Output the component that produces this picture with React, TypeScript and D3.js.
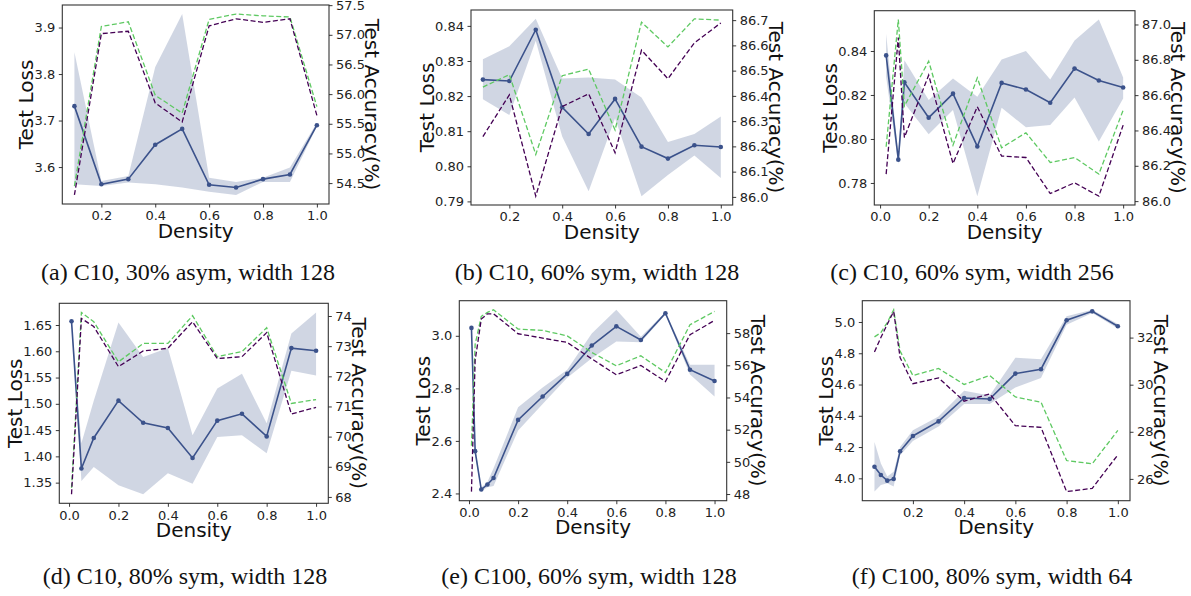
import React, { useEffect, useRef } from "react";
import * as d3 from "d3";

// ---- (a) C10, 30% asym, width 128
const xA = [0.1, 0.2, 0.3, 0.4, 0.5, 0.6, 0.7, 0.8, 0.9, 1.0];
const lossA = [3.731, 3.563, 3.574, 3.648, 3.682, 3.562, 3.556, 3.574, 3.584, 3.69];
const lossLoA = [3.563, 3.559, 3.567, 3.563, 3.556, 3.547, 3.54, 3.568, 3.568, 3.687];
const lossHiA = [3.847, 3.57, 3.581, 3.815, 3.929, 3.577, 3.568, 3.577, 3.599, 3.695];
const greenA = [54.45, 57.14, 57.22, 55.98, 55.68, 57.26, 57.35, 57.32, 57.3, 55.79];
const purpleA = [54.3, 57.02, 57.06, 55.85, 55.53, 57.15, 57.27, 57.21, 57.27, 55.64];

// ---- (b) C10, 60% sym, width 128
const xB = [0.1, 0.2, 0.3, 0.4, 0.5, 0.6, 0.7, 0.8, 0.9, 1.0];
const lossB = [0.8247, 0.8243, 0.8389, 0.8168, 0.8092, 0.8192, 0.8056, 0.8022, 0.806, 0.8055];
const lossLoB = [0.8191, 0.8146, 0.8358, 0.8085, 0.7929, 0.8137, 0.7915, 0.7975, 0.8031, 0.7967];
const lossHiB = [0.8305, 0.8342, 0.842, 0.825, 0.8253, 0.8247, 0.8196, 0.8069, 0.8092, 0.8142];
const greenB = [86.435, 86.484, 86.168, 86.48, 86.506, 86.265, 86.692, 86.594, 86.705, 86.7];
const purpleB = [86.239, 86.404, 86.003, 86.358, 86.408, 86.175, 86.581, 86.468, 86.61, 86.689];

// ---- (c) C10, 60% sym, width 256
const xC = [0.025, 0.075, 0.1, 0.2, 0.3, 0.4, 0.5, 0.6, 0.7, 0.8, 0.9, 1.0];
const lossC = [0.838, 0.7906, 0.8258, 0.8097, 0.8206, 0.7966, 0.8255, 0.8225, 0.8165, 0.832, 0.8266, 0.8234];
const lossLoC = [0.8282, 0.7886, 0.8162, 0.8022, 0.8132, 0.774, 0.8142, 0.8053, 0.8064, 0.8189, 0.7988, 0.8184];
const lossHiC = [0.8478, 0.7926, 0.8358, 0.8177, 0.8275, 0.8192, 0.8361, 0.84, 0.827, 0.8448, 0.8543, 0.8279];
const greenC = [86.308, 87.028, 86.538, 86.792, 86.317, 86.698, 86.302, 86.387, 86.219, 86.247, 86.153, 86.515];
const purpleC = [86.153, 86.926, 86.36, 86.713, 86.213, 86.534, 86.255, 86.247, 86.043, 86.104, 86.028, 86.43];

// ---- (d) C10, 80% sym, width 128
const xD = [0.01, 0.05, 0.1, 0.2, 0.3, 0.4, 0.5, 0.6, 0.7, 0.8, 0.9, 1.0];
const lossD = [1.657, 1.377, 1.435, 1.506, 1.464, 1.454, 1.397, 1.468, 1.481, 1.438, 1.606, 1.601];
const lossLoD = [1.655, 1.353, 1.38, 1.345, 1.328, 1.368, 1.348, 1.437, 1.44, 1.406, 1.563, 1.554];
const lossHiD = [1.659, 1.425, 1.506, 1.655, 1.589, 1.606, 1.44, 1.529, 1.557, 1.463, 1.634, 1.674];
const greenD = [68.3, 74.12, 73.81, 72.48, 73.09, 73.09, 74.01, 72.65, 72.82, 73.61, 71.1, 71.23];
const purpleD = [68.09, 73.92, 73.65, 72.32, 72.84, 72.93, 73.81, 72.59, 72.65, 73.45, 70.75, 70.97];

// ---- (e) C100, 60% sym, width 128
const xE = [0.01, 0.025, 0.05, 0.075, 0.1, 0.2, 0.3, 0.4, 0.5, 0.6, 0.7, 0.8, 0.9, 1.0];
const lossE = [3.03, 2.561, 2.415, 2.434, 2.459, 2.68, 2.769, 2.855, 2.963, 3.036, 2.984, 3.086, 2.871, 2.828];
const lossLoE = [3.025, 2.55, 2.407, 2.424, 2.428, 2.64, 2.74, 2.84, 2.915, 2.978, 2.975, 3.081, 2.853, 2.769];
const lossHiE = [3.035, 2.572, 2.423, 2.444, 2.496, 2.728, 2.803, 2.871, 3.009, 3.099, 2.996, 3.091, 2.89, 2.89];
const greenE = [51.0, 57.3, 59.04, 59.29, 59.45, 58.25, 58.17, 57.83, 56.8, 55.97, 56.59, 55.55, 58.52, 59.35];
const purpleE = [48.15, 56.3, 58.87, 59.2, 59.2, 57.96, 57.69, 57.42, 56.4, 55.41, 55.99, 54.99, 57.9, 58.79];

// ---- (f) C100, 80% sym, width 64
const xF = [0.05, 0.075, 0.1, 0.125, 0.15, 0.2, 0.3, 0.4, 0.5, 0.6, 0.7, 0.8, 0.9, 1.0];
const lossF = [4.074, 4.021, 3.985, 3.996, 4.173, 4.271, 4.364, 4.514, 4.507, 4.67, 4.698, 5.011, 5.068, 4.973];
const lossLoF = [3.915, 3.958, 3.968, 3.947, 4.148, 4.239, 4.332, 4.476, 4.476, 4.581, 4.641, 4.983, 5.057, 4.958];
const lossHiF = [4.233, 4.095, 4.011, 4.042, 4.2, 4.307, 4.395, 4.56, 4.529, 4.772, 4.761, 5.036, 5.078, 4.987];
const greenF = [32.03, 32.21, 32.64, 33.18, 31.43, 30.39, 30.69, 30.01, 30.39, 29.48, 29.26, 26.78, 26.64, 28.06];
const purpleF = [31.39, 32.0, 32.57, 33.11, 31.15, 30.04, 30.29, 29.3, 29.61, 28.26, 28.19, 25.46, 25.6, 27.02];

// tick labels
const densityTicks = [0.2, 0.4, 0.6, 0.8, 1.0];
const densityTicks0 = [0.0, 0.2, 0.4, 0.6, 0.8, 1.0];
const lossTicksA = [3.6, 3.7, 3.8, 3.9];
const accTicksA = [54.5, 55.0, 55.5, 56.0, 56.5, 57.0, 57.5];
const lossTicksB = [0.79, 0.8, 0.81, 0.82, 0.83, 0.84];
const accTicksB = [86.0, 86.1, 86.2, 86.3, 86.4, 86.5, 86.6, 86.7];
const lossTicksC = [0.78, 0.8, 0.82, 0.84];
const accTicksC = [86.0, 86.2, 86.4, 86.6, 86.8, 87.0];
const lossTicksD = [1.35, 1.4, 1.45, 1.5, 1.55, 1.6, 1.65];
const accTicksD = [68, 69, 70, 71, 72, 73, 74];
const lossTicksE = [2.4, 2.6, 2.8, 3.0];
const accTicksE = [48, 50, 52, 54, 56, 58];
const lossTicksF = [4.0, 4.2, 4.4, 4.6, 4.8, 5.0];
const accTicksF = [26, 28, 30, 32];

const captions = [
  "(a) C10, 30% asym, width 128",
  "(b) C10, 60% sym, width 128",
  "(c) C10, 60% sym, width 256",
  "(d) C10, 80% sym, width 128",
  "(e) C100, 60% sym, width 128",
  "(f) C100, 80% sym, width 64",
];

const BLUE = "#3b528b";
const GREEN = "#5ec962";
const PURPLE = "#440154";
const SANS = "DejaVu Sans, sans-serif";
const SERIF = "Liberation Serif, Times New Roman, serif";

const panels = [
  { xs: xA, loss: lossA, lo: lossLoA, hi: lossHiA, green: greenA, purple: purpleA, xTicks: densityTicks, lossTicks: lossTicksA, accTicks: accTicksA, lossFmt: ".1f", accFmt: ".1f", box: [62.3, 5, 329, 204], cap: captions[0], capX: 188, capY: 280 },
  { xs: xB, loss: lossB, lo: lossLoB, hi: lossHiB, green: greenB, purple: purpleB, xTicks: densityTicks, lossTicks: lossTicksB, accTicks: accTicksB, lossFmt: ".2f", accFmt: ".1f", box: [471, 10, 732.7, 205], cap: captions[1], capX: 597, capY: 280 },
  { xs: xC, loss: lossC, lo: lossLoC, hi: lossHiC, green: greenC, purple: purpleC, xTicks: densityTicks0, lossTicks: lossTicksC, accTicks: accTicksC, lossFmt: ".2f", accFmt: ".1f", box: [874.3, 10.7, 1135, 205], cap: captions[2], capX: 972, capY: 280 },
  { xs: xD, loss: lossD, lo: lossLoD, hi: lossHiD, green: greenD, purple: purpleD, xTicks: densityTicks0, lossTicks: lossTicksD, accTicks: accTicksD, lossFmt: ".2f", accFmt: "d", box: [59.3, 303.3, 328.3, 503.3], cap: captions[3], capX: 185, capY: 584 },
  { xs: xE, loss: lossE, lo: lossLoE, hi: lossHiE, green: greenE, purple: purpleE, xTicks: densityTicks0, lossTicks: lossTicksE, accTicks: accTicksE, lossFmt: ".1f", accFmt: "d", box: [459.3, 300.7, 726.7, 500.7], cap: captions[4], capX: 589, capY: 584 },
  { xs: xF, loss: lossF, lo: lossLoF, hi: lossHiF, green: greenF, purple: purpleF, xTicks: densityTicks, lossTicks: lossTicksF, accTicks: accTicksF, lossFmt: ".1f", accFmt: "d", box: [862.3, 300.7, 1130, 500.7], cap: captions[5], capX: 992, capY: 584 },
];

// matplotlib-style autoscale: 5% margin around the data
const padded = (vals: number[]) => {
  const [a, b] = d3.extent(vals) as [number, number];
  const m = (b - a) * 0.05;
  return [a - m, b + m];
};

const App = () => {
  const ref = useRef<SVGSVGElement>(null);

  useEffect(() => {
    const svg = d3.select(ref.current);
    svg.selectAll("*").remove();

    panels.forEach((p) => {
      const [L, T, R, B] = p.box;
      const x = d3.scaleLinear().domain(padded(p.xs)).range([L, R]);
      const y = d3.scaleLinear().domain(padded([...p.lo, ...p.hi, ...p.loss])).range([B, T]);
      const y2 = d3.scaleLinear().domain(padded([...p.green, ...p.purple])).range([B, T]);
      const idx = d3.range(p.xs.length);
      const g = svg.append("g");

      // std band
      const band = d3.area<number>()
        .x((i) => x(p.xs[i]))
        .y0((i) => y(p.lo[i]))
        .y1((i) => y(p.hi[i]));
      g.append("path").datum(idx).attr("d", band)
        .attr("fill", BLUE).attr("fill-opacity", 0.24);

      // loss line + markers
      const lossLine = d3.line<number>().x((i) => x(p.xs[i])).y((i) => y(p.loss[i]));
      g.append("path").datum(idx).attr("d", lossLine)
        .attr("fill", "none").attr("stroke", BLUE).attr("stroke-width", 1.6);
      g.selectAll(".dot").data(idx).enter().append("circle")
        .attr("cx", (i) => x(p.xs[i])).attr("cy", (i) => y(p.loss[i]))
        .attr("r", 2.3).attr("fill", BLUE);

      // accuracy lines (twin axis)
      [[p.green, GREEN], [p.purple, PURPLE]].forEach(([vals, col]: any) => {
        const l = d3.line<number>().x((i) => x(p.xs[i])).y((i) => y2(vals[i]));
        g.append("path").datum(idx).attr("d", l)
          .attr("fill", "none").attr("stroke", col).attr("stroke-width", 1.3)
          .attr("stroke-dasharray", "5,2.5");
      });

      // spines
      g.append("rect").attr("x", L).attr("y", T).attr("width", R - L).attr("height", B - T)
        .attr("fill", "none").attr("stroke", "#333").attr("stroke-width", 1.1);

      const styleAxis = (ax: any) => {
        ax.select(".domain").remove();
        ax.attr("font-family", SANS).attr("font-size", 13);
        ax.selectAll("line").attr("stroke", "#222").attr("stroke-width", 0.9);
        ax.selectAll("text").attr("fill", "#222");
      };

      const xAxis = g.append("g").attr("transform", `translate(0,${B})`)
        .call(d3.axisBottom(x).tickValues(p.xTicks).tickFormat(d3.format(".1f")).tickSize(3.5).tickPadding(3.5));
      styleAxis(xAxis);

      const lAxis = g.append("g").attr("transform", `translate(${L},0)`)
        .call(d3.axisLeft(y).tickValues(p.lossTicks).tickFormat(d3.format(p.lossFmt)).tickSize(3.5).tickPadding(3.5));
      styleAxis(lAxis);

      const rAxis = g.append("g").attr("transform", `translate(${R},0)`)
        .call(d3.axisRight(y2).tickValues(p.accTicks).tickFormat(d3.format(p.accFmt)).tickSize(3.5).tickPadding(3.5));
      styleAxis(rAxis);

      const widest = (ax: any) =>
        d3.max(ax.selectAll("text").nodes() as SVGTextElement[], (n) => n.getComputedTextLength()) || 0;
      const cy = (T + B) / 2;

      g.append("text")
        .attr("transform", `translate(${L - 7 - widest(lAxis) - 1.5},${cy}) rotate(-90)`)
        .attr("text-anchor", "middle").attr("font-family", SANS).attr("font-size", 20)
        .attr("fill", "#111").text("Test Loss");

      g.append("text")
        .attr("transform", `translate(${R + 7 + widest(rAxis) + 0.5},${cy}) rotate(90)`)
        .attr("text-anchor", "middle").attr("font-family", SANS).attr("font-size", 20)
        .attr("fill", "#111").text("Test Accuracy(%)");

      g.append("text")
        .attr("x", (L + R) / 2).attr("y", B + 33.5)
        .attr("text-anchor", "middle").attr("font-family", SANS).attr("font-size", 20)
        .attr("fill", "#111").text("Density");

      g.append("text")
        .attr("x", p.capX).attr("y", p.capY)
        .attr("text-anchor", "middle").attr("font-family", SERIF).attr("font-size", 24)
        .attr("fill", "#111").text(p.cap);
    });
  }, []);

  return (
    <svg
      ref={ref}
      width={1191}
      height={596}
      style={{ position: "absolute", left: 0, top: 0, background: "#fff" }}
    />
  );
};

export default App;
